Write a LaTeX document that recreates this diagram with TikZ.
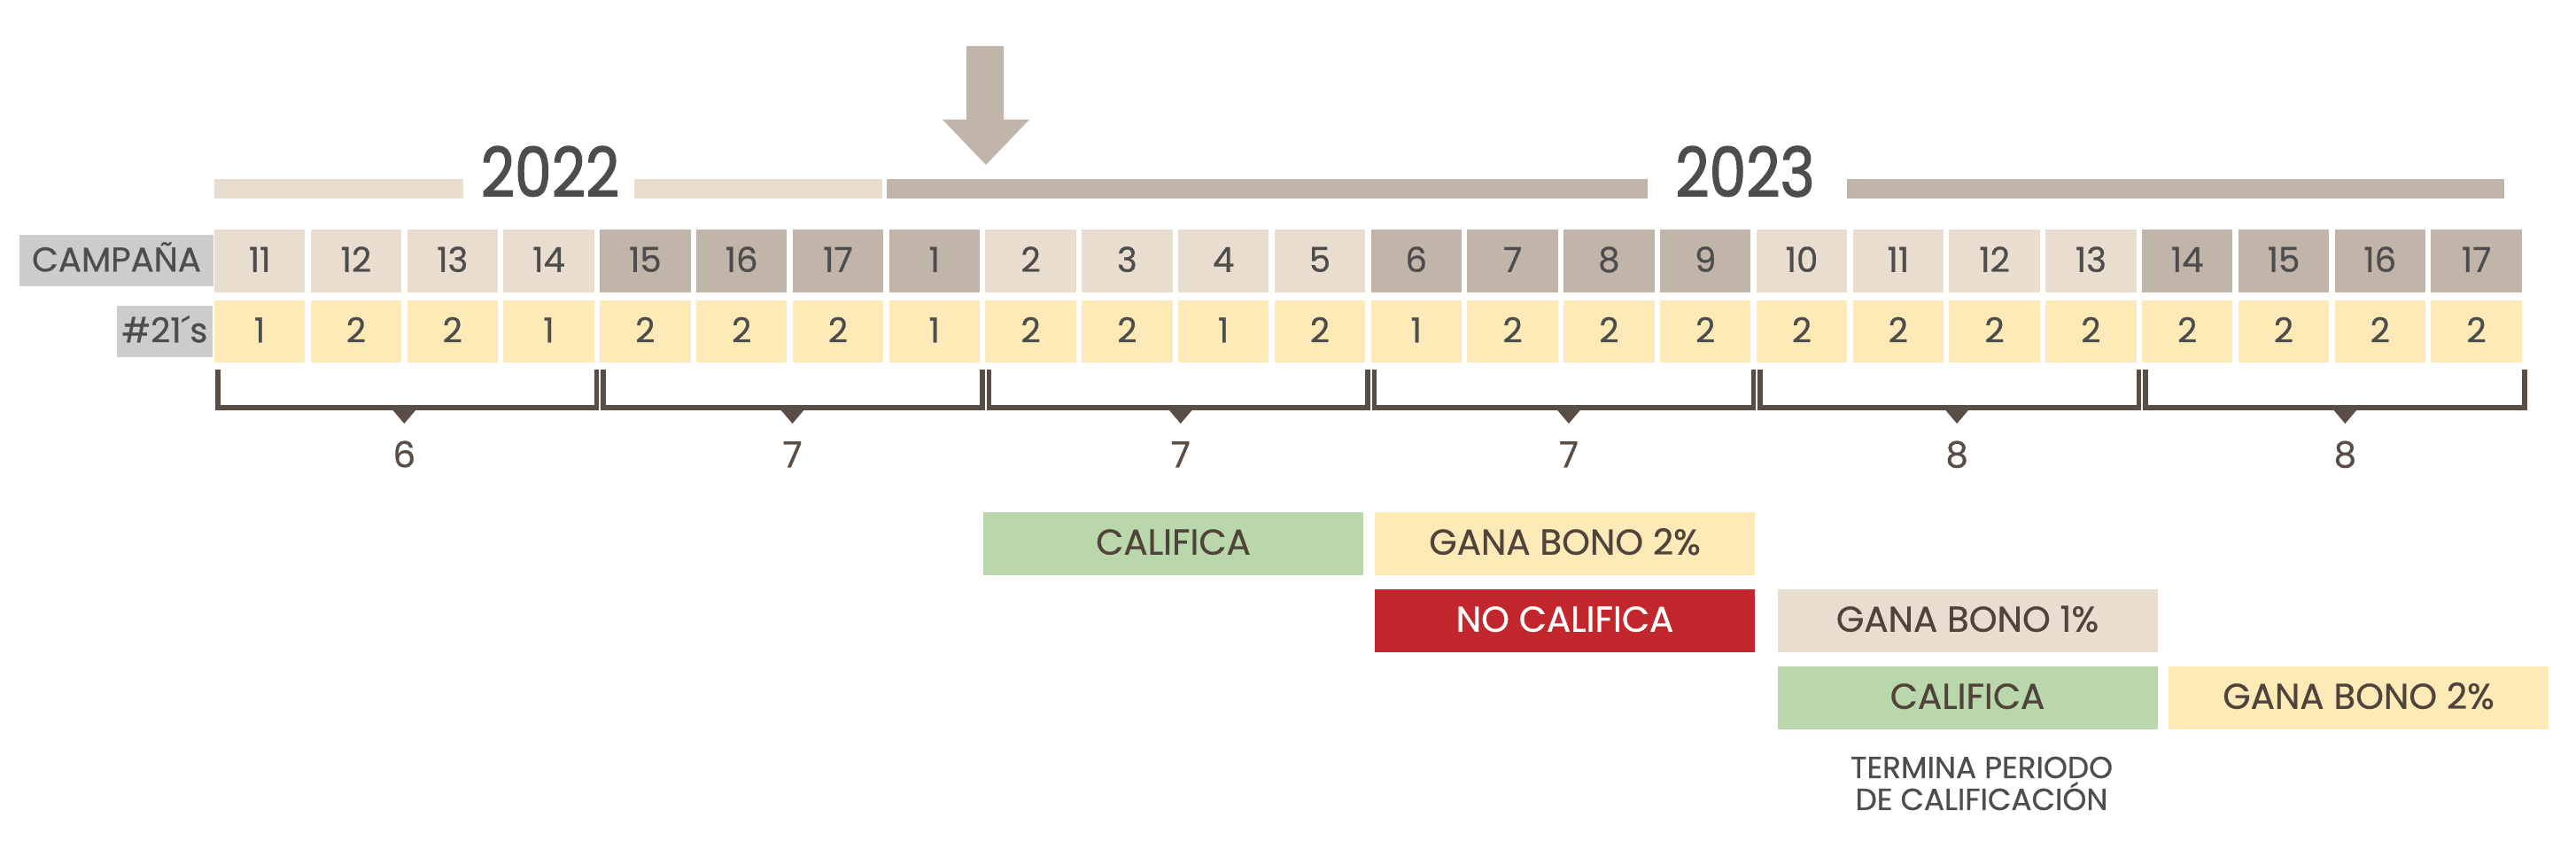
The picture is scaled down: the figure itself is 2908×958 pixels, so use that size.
\documentclass[tikz,border=0pt]{standalone}
\usepackage{fontspec}
\setmainfont{Poppins}[FakeBold=0.7]
\newfontfamily\yearfont{Poppins}[FakeStretch=0.86,FakeBold=1.6]
\usepackage{tikz}
\definecolor{beige}{HTML}{E8DDCF}
\definecolor{taupe}{HTML}{C1B4A8}
\definecolor{crema}{HTML}{FEEAB6}
\definecolor{gris}{HTML}{CCCCCC}
\definecolor{verde}{HTML}{BAD7AB}
\definecolor{rojo}{HTML}{C1272D}
\definecolor{tinta}{HTML}{4D4D4D}
\definecolor{cafe}{HTML}{4F433B}
\definecolor{llave}{HTML}{594D46}

\begin{document}
\begin{tikzpicture}[x=0.1mm,y=-0.1mm,
  celda/.style={minimum width=10.23mm,minimum height=7.1mm,inner sep=0pt,text=tinta,
    font=\fontsize{11}{13}\selectfont,text height=0.7em,text depth=0pt},
  etiqueta/.style={fill=gris,inner sep=0pt,minimum height=5.8mm,text=tinta,
    font=\fontsize{11}{13}\selectfont,text height=0.7em,text depth=0pt},
  caja/.style={minimum width=42.9mm,minimum height=7.1mm,inner sep=0pt,text=cafe,
    font=\fontsize{11.5}{13}\selectfont,text height=0.7em,text depth=0pt},
  anio/.style={text=tinta,inner sep=0pt,font=\yearfont\fontsize{22}{24}\selectfont,
    text height=0.7em,text depth=0pt}]
  \useasboundingbox (0,0) rectangle (2908,958);

  % Arrow marking the current campaign
  \fill[taupe] (1091,52) -- (1133,52) -- (1133,135) -- (1162,135) -- (1113,186)
    -- (1064,135) -- (1091,135) -- cycle;

  % Year bars and years
  \fill[beige] (242,202) rectangle (523,224);
  \fill[beige] (716,202) rectangle (996,224);
  \fill[taupe] (1001,202) rectangle (1860,224);
  \fill[taupe] (2085,202) rectangle (2827,224);
  \node[anio] (y22) at (621,209.5) {2022};
  \node[anio] (y23) at (1970,209.5) {2023};

  % Row labels
  \node[etiqueta,minimum width=21.9mm] (campana) at (131.5,294) {CAMPAÑA};
  \node[etiqueta,minimum width=10.8mm] (veinte) at (186,374) {\#21´s};

  % Campaign row
  \foreach \c/\col [count=\i from 0] in {11/beige,12/beige,13/beige,14/beige,
      15/taupe,16/taupe,17/taupe,1/taupe,2/beige,3/beige,4/beige,5/beige,
      6/taupe,7/taupe,8/taupe,9/taupe,10/beige,11/beige,12/beige,13/beige,
      14/taupe,15/taupe,16/taupe,17/taupe}
    \node[celda,fill=\col] (c\i) at ({293.15+108.8*\i},294.5) {\c};

  % Number of #21's per campaign
  \foreach \v [count=\i from 0] in {1,2,2,1,2,2,2,1,2,2,1,2,1,2,2,2,2,2,2,2,2,2,2,2}
    \node[celda,fill=crema,minimum height=7.0mm] (n\i) at ({293.15+108.8*\i},374) {\v};

  % Brackets with totals
  \foreach \t [count=\k from 0] in {6,7,7,7,8,8}{
    \draw[llave,line width=0.55mm]
      ({246+435.2*\k},417) |- ({673.7+435.2*\k},460) -- ({673.7+435.2*\k},417);
    \fill[llave] ({439.35+438.2*\k},458) -- ({473.35+438.2*\k},458)
      -- ({456.35+438.2*\k},478) -- cycle;
    \node[text=llave,inner sep=0pt,font=\fontsize{11.5}{13}\selectfont,
      text height=0.7em,text depth=0pt] (g\k) at ({456.35+438.2*\k},515) {\t};
  }

  % Results
  \node[caja,fill=verde] (cal1) at (1324.5,613.5) {CALIFICA};
  \node[caja,fill=crema] (bono1) at (1766.5,613.5) {GANA BONO 2\%};
  \node[caja,fill=rojo,text=white] (nocal) at (1766.5,700.5) {NO CALIFICA};
  \node[caja,fill=beige] (bono2) at (2221,700.5) {GANA BONO 1\%};
  \node[caja,fill=verde] (cal2) at (2221,787.5) {CALIFICA};
  \node[caja,fill=crema] (bono3) at (2662.5,787.5) {GANA BONO 2\%};

  % Note under the last block
  \node[text=tinta,align=center,inner sep=0pt,font=\fontsize{9.75}{10.25}\selectfont]
    (fin) at (2237,884) {TERMINA PERIODO\\DE CALIFICACIÓN};
\end{tikzpicture}
\end{document}
